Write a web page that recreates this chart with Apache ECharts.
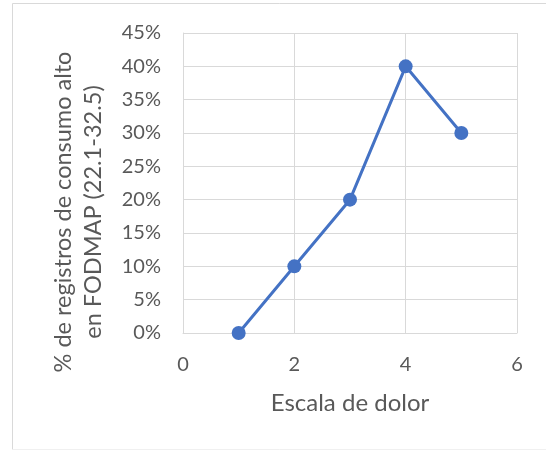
<!DOCTYPE html>
<html>
<head>
<meta charset="utf-8">
<script src="https://cdn.jsdelivr.net/npm/echarts@6/dist/echarts.min.js"></script>
<style>
  html, body { margin: 0; padding: 0; background: #ffffff; }
  #chart { width: 546px; height: 451px; }
</style>
</head>
<body>
<div id="chart"></div>
<script>
// Pain scale vs share of high-FODMAP intake records
const painScale = [1, 2, 3, 4, 5];
const highFodmapShare = [0, 0.10, 0.20, 0.40, 0.30];
const xTicks = [0, 2, 4, 6];
const yTicks = [0, 0.05, 0.10, 0.15, 0.20, 0.25, 0.30, 0.35, 0.40, 0.45];

const FONT = 'Lato';
const TEXT = '#595959';
const GRID = '#d9d9d9';

const chart = echarts.init(document.getElementById('chart'), null, { renderer: 'canvas' });

chart.setOption({
  backgroundColor: '#ffffff',
  animation: false,
  grid: { left: 183, right: 29, top: 33, bottom: 118 },
  xAxis: {
    type: 'value',
    min: xTicks[0],
    max: xTicks[xTicks.length - 1],
    interval: xTicks[1] - xTicks[0],
    name: 'Escala de dolor',
    nameLocation: 'middle',
    nameGap: 58,
    nameTextStyle: { fontFamily: FONT, fontSize: 24, color: TEXT },
    axisLine: { show: true, lineStyle: { color: GRID, width: 1 } },
    axisTick: { show: false },
    axisLabel: { fontFamily: FONT, fontSize: 20, color: TEXT, margin: 22 },
    splitLine: { show: true, lineStyle: { color: GRID, width: 1 } }
  },
  yAxis: {
    type: 'value',
    min: yTicks[0],
    max: yTicks[yTicks.length - 1],
    interval: yTicks[1] - yTicks[0],
    axisLine: { show: true, lineStyle: { color: GRID, width: 1 } },
    axisTick: { show: false },
    axisLabel: {
      fontFamily: FONT, fontSize: 20, color: TEXT, margin: 22,
      formatter: v => Math.round(v * 100) + '%'
    },
    splitLine: { show: true, lineStyle: { color: GRID, width: 1 } }
  },
  series: [{
    type: 'line',
    data: painScale.map((x, i) => [x, highFodmapShare[i]]),
    symbol: 'circle',
    symbolSize: 14,
    lineStyle: { color: '#4472C4', width: 3 },
    itemStyle: { color: '#4472C4' },
    z: 3
  }],
  graphic: [
    // chart frame
    { type: 'line', shape: { x1: 12.5, y1: 3.5, x2: 546, y2: 3.5 }, style: { stroke: GRID, lineWidth: 1 }, silent: true },
    { type: 'line', shape: { x1: 12.5, y1: 3.5, x2: 12.5, y2: 449.5 }, style: { stroke: GRID, lineWidth: 1 }, silent: true },
    { type: 'line', shape: { x1: 12.5, y1: 449.5, x2: 546, y2: 449.5 }, style: { stroke: '#f0f0f0', lineWidth: 1 }, silent: true },
    // y axis title
    {
      type: 'text',
      x: 78, y: 212,
      rotation: Math.PI / 2,
      style: {
        text: '% de registros de consumo alto\nen FODMAP (22.1-32.5)',
        font: '23.5px ' + FONT,
        fill: TEXT,
        align: 'center',
        verticalAlign: 'middle',
        lineHeight: 30
      },
      silent: true
    }
  ]
});
</script>
</body>
</html>
